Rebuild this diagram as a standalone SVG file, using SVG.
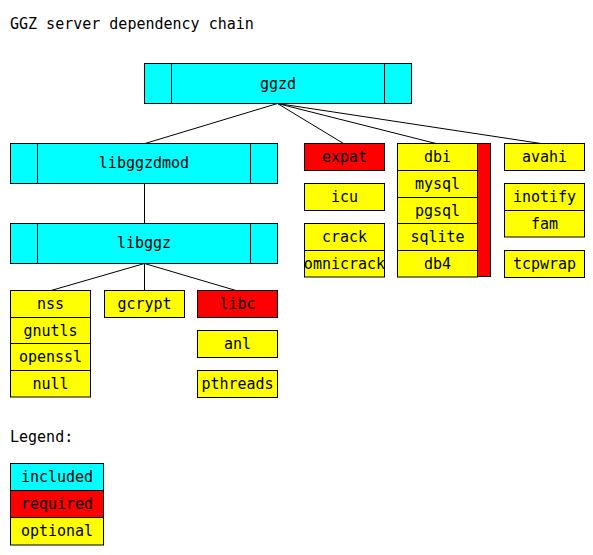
<svg xmlns="http://www.w3.org/2000/svg" width="593" height="555" viewBox="0 0 593 555">
<style>
rect{stroke:#000;stroke-width:1}
.inc{fill:#00ffff}.req{fill:#ff0000}.opt{fill:#ffff00}
line{stroke:#000;stroke-width:1}
text{font-family:"DejaVu Sans Mono","Liberation Mono",monospace;font-size:15px;fill:#000}
.c{text-anchor:middle}
</style>
<rect width="593" height="555" fill="#fff" style="stroke:none"/>
<text x="10" y="29">GGZ server dependency chain</text>
<g id="connectors">
<line x1="277.5" y1="103.5" x2="145" y2="143.5"/>
<line x1="277.5" y1="103.5" x2="343.5" y2="143.5"/>
<line x1="277.5" y1="103.5" x2="436" y2="143.5"/>
<line x1="277.5" y1="103.5" x2="541" y2="143.5"/>
<line x1="144.5" y1="183.5" x2="144.5" y2="223.5"/>
<line x1="144.5" y1="263.5" x2="51" y2="290.5"/>
<line x1="144.5" y1="263.5" x2="144.5" y2="290.5"/>
<line x1="144.5" y1="263.5" x2="236" y2="290.5"/>
</g>
<g id="ggzd"><rect class="inc" x="144.5" y="63.5" width="267" height="40"/><line x1="171.5" y1="63.5" x2="171.5" y2="103.5"/><line x1="384.5" y1="63.5" x2="384.5" y2="103.5"/><text class="c" x="278" y="88.5">ggzd</text></g>
<g id="libggzdmod"><rect class="inc" x="10.5" y="143.5" width="267" height="40"/><line x1="37.5" y1="143.5" x2="37.5" y2="183.5"/><line x1="250.5" y1="143.5" x2="250.5" y2="183.5"/><text class="c" x="144" y="168">libggzdmod</text></g>
<g id="libggz"><rect class="inc" x="10.5" y="223.5" width="267" height="40"/><line x1="37.5" y1="223.5" x2="37.5" y2="263.5"/><line x1="250.5" y1="223.5" x2="250.5" y2="263.5"/><text class="c" x="144" y="248">libggz</text></g>
<g id="nss"><rect class="opt" x="10.5" y="290.5" width="80" height="27"/><text class="c" x="50.5" y="309">nss</text></g>
<g id="gnutls"><rect class="opt" x="10.5" y="317.5" width="80" height="26"/><text class="c" x="50.5" y="335.5">gnutls</text></g>
<g id="openssl"><rect class="opt" x="10.5" y="343.5" width="80" height="27"/><text class="c" x="50.5" y="362">openssl</text></g>
<g id="null"><rect class="opt" x="10.5" y="370.5" width="80" height="26.5"/><text class="c" x="50.5" y="389">null</text></g>
<g id="gcrypt"><rect class="opt" x="104.5" y="290.5" width="80" height="27"/><text class="c" x="144.5" y="309">gcrypt</text></g>
<g id="libc"><rect class="req" x="197.5" y="290.5" width="80" height="27"/><text class="c" x="237.5" y="309">libc</text></g>
<g id="anl"><rect class="opt" x="197.5" y="330.5" width="80" height="27"/><text class="c" x="237.5" y="349">anl</text></g>
<g id="pthreads"><rect class="opt" x="197.5" y="370.5" width="80" height="27"/><text class="c" x="237.5" y="389">pthreads</text></g>
<g id="expat"><rect class="req" x="304.5" y="143.5" width="80" height="27"/><text class="c" x="344.5" y="162">expat</text></g>
<g id="icu"><rect class="opt" x="304.5" y="183.5" width="80" height="27"/><text class="c" x="344.5" y="202">icu</text></g>
<g id="crack"><rect class="opt" x="304.5" y="223.5" width="80" height="27"/><text class="c" x="344.5" y="242">crack</text></g>
<g id="omnicrack"><rect class="opt" x="304.5" y="250.5" width="80" height="26.5"/><text class="c" x="344.5" y="269">omnicrack</text></g>
<g id="dbi-bar"><rect class="req" x="477.5" y="143.5" width="13" height="133"/></g>
<g id="dbi"><rect class="opt" x="397.5" y="143.5" width="80" height="27"/><text class="c" x="437.5" y="162">dbi</text></g>
<g id="mysql"><rect class="opt" x="397.5" y="170.5" width="80" height="27"/><text class="c" x="437.5" y="189">mysql</text></g>
<g id="pgsql"><rect class="opt" x="397.5" y="197.5" width="80" height="26"/><text class="c" x="437.5" y="215.5">pgsql</text></g>
<g id="sqlite"><rect class="opt" x="397.5" y="223.5" width="80" height="27"/><text class="c" x="437.5" y="242">sqlite</text></g>
<g id="db4"><rect class="opt" x="397.5" y="250.5" width="80" height="26.5"/><text class="c" x="437.5" y="269">db4</text></g>
<g id="avahi"><rect class="opt" x="504.5" y="143.5" width="80" height="27"/><text class="c" x="544.5" y="162">avahi</text></g>
<g id="inotify"><rect class="opt" x="504.5" y="183.5" width="80" height="27"/><text class="c" x="544.5" y="202">inotify</text></g>
<g id="fam"><rect class="opt" x="504.5" y="210.5" width="80" height="26.5"/><text class="c" x="544.5" y="229">fam</text></g>
<g id="tcpwrap"><rect class="opt" x="504.5" y="250.5" width="80" height="27"/><text class="c" x="544.5" y="269">tcpwrap</text></g>
<text x="10" y="442">Legend:</text>
<g id="legend-included"><rect class="inc" x="10.5" y="463.5" width="93" height="27"/><text class="c" x="57" y="482">included</text></g>
<g id="legend-required"><rect class="req" x="10.5" y="490.5" width="93" height="27"/><text class="c" x="57" y="509">required</text></g>
<g id="legend-optional"><rect class="opt" x="10.5" y="517.5" width="93" height="27.5"/><text class="c" x="57" y="536">optional</text></g>
</svg>
